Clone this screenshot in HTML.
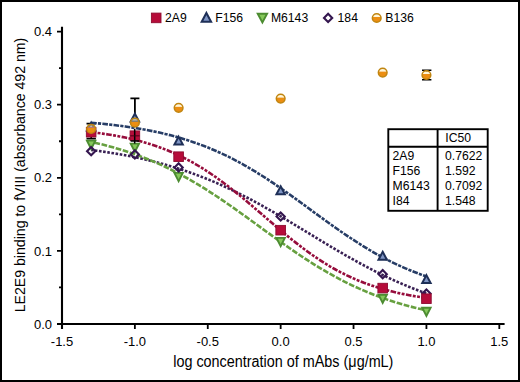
<!DOCTYPE html>
<html><head><meta charset="utf-8"><style>
html,body{margin:0;padding:0;background:#fff;}
svg{display:block;}
text{font-family:"Liberation Sans",sans-serif;fill:#000;}
.t13{font-size:13px;}
.t12{font-size:12.2px;}
.t14{font-size:14.12px;}
.xl{font-size:15.6px;}
</style></head><body>
<svg width="520" height="382" viewBox="0 0 520 382">
<rect x="1" y="1" width="518" height="380" fill="#fff" stroke="#000" stroke-width="2"/>
<path d="M62,26.8 V329 M57,324 H504.6" stroke="#000" stroke-width="2.1" fill="none"/>
<path d="M57,324.00 H62 M57,250.90 H62 M57,177.80 H62 M57,104.70 H62 M57,31.60 H62 M59,287.45 H62 M59,214.35 H62 M59,141.25 H62 M59,68.15 H62 " stroke="#000" stroke-width="1.8"/>
<path d="M62.00,324 V329 M134.88,324 V329 M207.77,324 V329 M280.66,324 V329 M353.54,324 V329 M426.43,324 V329 M499.31,324 V329 " stroke="#000" stroke-width="1.8"/>
<text x="52" y="328.60" text-anchor="end" class="t13">0.0</text>
<text x="52" y="255.50" text-anchor="end" class="t13">0.1</text>
<text x="52" y="182.40" text-anchor="end" class="t13">0.2</text>
<text x="52" y="109.30" text-anchor="end" class="t13">0.3</text>
<text x="52" y="36.20" text-anchor="end" class="t13">0.4</text>
<text x="62.00" y="345.8" text-anchor="middle" class="t13">-1.5</text>
<text x="134.88" y="345.8" text-anchor="middle" class="t13">-1.0</text>
<text x="207.77" y="345.8" text-anchor="middle" class="t13">-0.5</text>
<text x="280.66" y="345.8" text-anchor="middle" class="t13">0.0</text>
<text x="353.54" y="345.8" text-anchor="middle" class="t13">0.5</text>
<text x="426.43" y="345.8" text-anchor="middle" class="t13">1.0</text>
<text x="499.31" y="345.8" text-anchor="middle" class="t13">1.5</text>
<text transform="translate(24.7,175.0) rotate(-90)" text-anchor="middle" class="t14">LE2E9 binding to fVIII (absorbance 492 nm)</text>
<text transform="translate(283.3,366.7) scale(0.923,1)" text-anchor="middle" class="xl">log concentration of mAbs (μg/mL)</text>
<path d="M91.2,123.6 V138.6 M86.5,123.6 H95.9 M86.5,138.6 H95.9" stroke="#000" stroke-width="1.6" fill="none"/>
<path d="M134.9,98.3 V125 M130.4,98.3 H139.4" stroke="#000" stroke-width="1.8" fill="none"/>
<path d="M426.7,70.3 V71.5 M426.7,78.5 V79.7 M422,70.3 H431.4 M422,79.7 H431.4" stroke="#000" stroke-width="1.6" fill="none"/>
<path d="M91.15,149.98 L96.84,150.73 L102.52,151.54 L108.20,152.40 L113.88,153.31 L119.57,154.28 L125.25,155.32 L130.93,156.42 L136.61,157.59 L142.30,158.83 L147.98,160.15 L153.66,161.55 L159.34,163.02 L165.03,164.58 L170.71,166.23 L176.39,167.97 L182.07,169.80 L187.76,171.72 L193.44,173.74 L199.12,175.86 L204.81,178.08 L210.49,180.39 L216.17,182.80 L221.85,185.31 L227.54,187.92 L233.22,190.62 L238.90,193.41 L244.58,196.29 L250.27,199.26 L255.95,202.31 L261.63,205.43 L267.31,208.62 L273.00,211.88 L278.68,215.18 L284.36,218.54 L290.04,221.93 L295.73,225.36 L301.41,228.80 L307.09,232.26 L312.77,235.72 L318.46,239.17 L324.14,242.60 L329.82,246.01 L335.50,249.39 L341.19,252.72 L346.87,255.99 L352.55,259.21 L358.23,262.37 L363.92,265.45 L369.60,268.45 L375.28,271.37 L380.96,274.20 L386.65,276.94 L392.33,279.59 L398.01,282.14 L403.69,284.60 L409.38,286.95 L415.06,289.21 L420.74,291.37 L426.43,293.43" fill="none" stroke="#392154" stroke-width="2.6" stroke-dasharray="2.6 1.6" stroke-dashoffset="0.52"/>
<path d="M91.15,141.96 L96.84,143.23 L102.52,144.59 L108.20,146.04 L113.88,147.59 L119.57,149.25 L125.25,151.01 L130.93,152.89 L136.61,154.88 L142.30,156.99 L147.98,159.23 L153.66,161.59 L159.34,164.08 L165.03,166.70 L170.71,169.46 L176.39,172.34 L182.07,175.36 L187.76,178.50 L193.44,181.77 L199.12,185.16 L204.81,188.66 L210.49,192.28 L216.17,196.00 L221.85,199.81 L227.54,203.71 L233.22,207.67 L238.90,211.70 L244.58,215.78 L250.27,219.89 L255.95,224.03 L261.63,228.17 L267.31,232.30 L273.00,236.41 L278.68,240.49 L284.36,244.52 L290.04,248.49 L295.73,252.39 L301.41,256.21 L307.09,259.93 L312.77,263.55 L318.46,267.06 L324.14,270.46 L329.82,273.73 L335.50,276.88 L341.19,279.90 L346.87,282.79 L352.55,285.55 L358.23,288.17 L363.92,290.67 L369.60,293.04 L375.28,295.28 L380.96,297.39 L386.65,299.39 L392.33,301.27 L398.01,303.04 L403.69,304.70 L409.38,306.25 L415.06,307.71 L420.74,309.07 L426.43,310.34" fill="none" stroke="#67A040" stroke-width="2.6" stroke-dasharray="5.7 1.63" stroke-dashoffset="3.98"/>
<path d="M91.15,132.12 L96.84,132.82 L102.52,133.59 L108.20,134.45 L113.88,135.40 L119.57,136.44 L125.25,137.59 L130.93,138.85 L136.61,140.24 L142.30,141.75 L147.98,143.42 L153.66,145.23 L159.34,147.20 L165.03,149.35 L170.71,151.68 L176.39,154.19 L182.07,156.90 L187.76,159.81 L193.44,162.93 L199.12,166.24 L204.81,169.77 L210.49,173.50 L216.17,177.42 L221.85,181.53 L227.54,185.81 L233.22,190.25 L238.90,194.83 L244.58,199.53 L250.27,204.32 L255.95,209.17 L261.63,214.07 L267.31,218.97 L273.00,223.86 L278.68,228.69 L284.36,233.45 L290.04,238.11 L295.73,242.64 L301.41,247.03 L307.09,251.25 L312.77,255.29 L318.46,259.15 L324.14,262.80 L329.82,266.26 L335.50,269.50 L341.19,272.54 L346.87,275.38 L352.55,278.02 L358.23,280.47 L363.92,282.73 L369.60,284.82 L375.28,286.73 L380.96,288.49 L386.65,290.10 L392.33,291.57 L398.01,292.91 L403.69,294.13 L409.38,295.24 L415.06,296.25 L420.74,297.16 L426.43,297.99" fill="none" stroke="#960D3C" stroke-width="2.6" stroke-dasharray="5.6 1.4 2.9 1.45 2.9 1.45" stroke-dashoffset="0.52"/>
<path d="M91.15,122.73 L96.84,123.24 L102.52,123.78 L108.20,124.38 L113.88,125.03 L119.57,125.73 L125.25,126.49 L130.93,127.32 L136.61,128.21 L142.30,129.18 L147.98,130.23 L153.66,131.37 L159.34,132.59 L165.03,133.92 L170.71,135.34 L176.39,136.87 L182.07,138.51 L187.76,140.27 L193.44,142.15 L199.12,144.17 L204.81,146.31 L210.49,148.59 L216.17,151.02 L221.85,153.58 L227.54,156.29 L233.22,159.15 L238.90,162.14 L244.58,165.28 L250.27,168.56 L255.95,171.98 L261.63,175.52 L267.31,179.18 L273.00,182.95 L278.68,186.82 L284.36,190.77 L290.04,194.80 L295.73,198.89 L301.41,203.02 L307.09,207.17 L312.77,211.33 L318.46,215.49 L324.14,219.62 L329.82,223.71 L335.50,227.74 L341.19,231.70 L346.87,235.58 L352.55,239.35 L358.23,243.02 L363.92,246.57 L369.60,249.99 L375.28,253.27 L380.96,256.42 L386.65,259.43 L392.33,262.29 L398.01,265.01 L403.69,267.58 L409.38,270.01 L415.06,272.30 L420.74,274.45 L426.43,276.47" fill="none" stroke="#273D66" stroke-width="2.6" stroke-dasharray="5.6 1.2 3.2 1.24" stroke-dashoffset="11.23"/>
<path d="M86.95,140.60 L95.35,140.60 L91.15,148.90Z" fill="#86C85A" stroke="#4C8C31" stroke-width="1.9" stroke-linejoin="miter"/>
<path d="M130.69,143.60 L139.08,143.60 L134.88,151.90Z" fill="#86C85A" stroke="#4C8C31" stroke-width="1.9" stroke-linejoin="miter"/>
<path d="M174.42,172.90 L182.82,172.90 L178.62,181.20Z" fill="#86C85A" stroke="#4C8C31" stroke-width="1.9" stroke-linejoin="miter"/>
<path d="M276.46,237.90 L284.86,237.90 L280.66,246.20Z" fill="#86C85A" stroke="#4C8C31" stroke-width="1.9" stroke-linejoin="miter"/>
<path d="M378.49,294.70 L386.89,294.70 L382.69,303.00Z" fill="#86C85A" stroke="#4C8C31" stroke-width="1.9" stroke-linejoin="miter"/>
<path d="M422.23,307.70 L430.62,307.70 L426.43,316.00Z" fill="#86C85A" stroke="#4C8C31" stroke-width="1.9" stroke-linejoin="miter"/>
<path d="M91.15,147.10 L95.25,151.20 L91.15,155.30 L87.05,151.20Z" fill="none" stroke="#34164F" stroke-width="2.1"/>
<path d="M134.88,150.30 L138.98,154.40 L134.88,158.50 L130.78,154.40Z" fill="none" stroke="#34164F" stroke-width="2.1"/>
<path d="M178.62,163.30 L182.72,167.40 L178.62,171.50 L174.52,167.40Z" fill="none" stroke="#34164F" stroke-width="2.1"/>
<path d="M280.66,212.40 L284.76,216.50 L280.66,220.60 L276.56,216.50Z" fill="none" stroke="#34164F" stroke-width="2.1"/>
<path d="M382.69,270.10 L386.79,274.20 L382.69,278.30 L378.59,274.20Z" fill="none" stroke="#34164F" stroke-width="2.1"/>
<path d="M426.43,289.40 L430.53,293.50 L426.43,297.60 L422.32,293.50Z" fill="none" stroke="#34164F" stroke-width="2.1"/>
<path d="M91.15,122.60 L95.35,130.50 L86.95,130.50Z" fill="#7F95C4" stroke="#1E2F57" stroke-width="2.0" stroke-linejoin="miter"/>
<path d="M134.88,113.60 L139.08,121.50 L130.69,121.50Z" fill="#7F95C4" stroke="#1E2F57" stroke-width="2.0" stroke-linejoin="miter"/>
<path d="M178.62,136.60 L182.82,144.50 L174.42,144.50Z" fill="#7F95C4" stroke="#1E2F57" stroke-width="2.0" stroke-linejoin="miter"/>
<path d="M280.66,186.30 L284.86,194.20 L276.46,194.20Z" fill="#7F95C4" stroke="#1E2F57" stroke-width="2.0" stroke-linejoin="miter"/>
<path d="M382.69,251.80 L386.89,259.70 L378.49,259.70Z" fill="#7F95C4" stroke="#1E2F57" stroke-width="2.0" stroke-linejoin="miter"/>
<path d="M426.43,275.10 L430.62,283.00 L422.23,283.00Z" fill="#7F95C4" stroke="#1E2F57" stroke-width="2.0" stroke-linejoin="miter"/>
<rect x="86.35" y="127.40" width="9.6" height="9.6" fill="#B60C3A" stroke="#8E0C30" stroke-width="0.9"/>
<rect x="130.08" y="130.90" width="9.6" height="9.6" fill="#B60C3A" stroke="#8E0C30" stroke-width="0.9"/>
<rect x="173.82" y="151.90" width="9.6" height="9.6" fill="#B60C3A" stroke="#8E0C30" stroke-width="0.9"/>
<rect x="275.86" y="225.40" width="9.6" height="9.6" fill="#B60C3A" stroke="#8E0C30" stroke-width="0.9"/>
<rect x="377.89" y="283.30" width="9.6" height="9.6" fill="#B60C3A" stroke="#8E0C30" stroke-width="0.9"/>
<rect x="421.62" y="293.90" width="9.6" height="9.6" fill="#B60C3A" stroke="#8E0C30" stroke-width="0.9"/>
<g><path d="M86.92,127.90 L95.39,127.90 A4.35,4.35 0 1 1 86.92,127.90Z" fill="#EC8E12"/><path d="M86.92,127.90 L95.39,127.90 A4.35,4.35 0 0 0 86.92,127.90Z" fill="#FFEBA8" opacity="0.45"/><circle cx="91.15" cy="128.90" r="4.35" fill="none" stroke="#C08510" stroke-width="1.5"/></g>
<g><path d="M130.65,121.70 L139.12,121.70 A4.35,4.35 0 1 1 130.65,121.70Z" fill="#EC8E12"/><path d="M130.65,121.70 L139.12,121.70 A4.35,4.35 0 0 0 130.65,121.70Z" fill="#FFEBA8" opacity="0.45"/><circle cx="134.88" cy="122.70" r="4.35" fill="none" stroke="#C08510" stroke-width="1.5"/></g>
<g><path d="M174.38,106.80 L182.85,106.80 A4.35,4.35 0 1 1 174.38,106.80Z" fill="#EC8E12"/><path d="M174.38,106.80 L182.85,106.80 A4.35,4.35 0 0 0 174.38,106.80Z" fill="#FFEBA8" opacity="0.45"/><circle cx="178.62" cy="107.80" r="4.35" fill="none" stroke="#C08510" stroke-width="1.5"/></g>
<g><path d="M276.42,97.60 L284.89,97.60 A4.35,4.35 0 1 1 276.42,97.60Z" fill="#EC8E12"/><path d="M276.42,97.60 L284.89,97.60 A4.35,4.35 0 0 0 276.42,97.60Z" fill="#FFEBA8" opacity="0.45"/><circle cx="280.66" cy="98.60" r="4.35" fill="none" stroke="#C08510" stroke-width="1.5"/></g>
<g><path d="M378.46,71.60 L386.93,71.60 A4.35,4.35 0 1 1 378.46,71.60Z" fill="#EC8E12"/><path d="M378.46,71.60 L386.93,71.60 A4.35,4.35 0 0 0 378.46,71.60Z" fill="#FFEBA8" opacity="0.45"/><circle cx="382.69" cy="72.60" r="4.35" fill="none" stroke="#C08510" stroke-width="1.5"/></g>
<g><path d="M422.19,74.00 L430.66,74.00 A4.35,4.35 0 1 1 422.19,74.00Z" fill="#EC8E12"/><path d="M422.19,74.00 L430.66,74.00 A4.35,4.35 0 0 0 422.19,74.00Z" fill="#FFEBA8" opacity="0.45"/><circle cx="426.43" cy="75.00" r="4.35" fill="none" stroke="#C08510" stroke-width="1.5"/></g>
<path d="M134.7,129 V143.6 M130.6,140.9 H139.2" stroke="#000" stroke-width="1.5" fill="none"/>
<path d="M130.2,135.8 H139.6" stroke="#3a0010" stroke-width="1.3" fill="none" opacity="0.7"/>
<rect x="151.40" y="13.10" width="9.6" height="9.6" fill="#B60C3A" stroke="#8E0C30" stroke-width="0.9"/>
<path d="M206.40,12.95 L211.10,21.75 L201.70,21.75Z" fill="#7F95C4" stroke="#1E2F57" stroke-width="2.0" stroke-linejoin="miter"/>
<path d="M257.70,13.75 L267.10,13.75 L262.40,22.55Z" fill="#86C85A" stroke="#4C8C31" stroke-width="1.9" stroke-linejoin="miter"/>
<path d="M328.10,13.80 L332.20,17.90 L328.10,22.00 L324.00,17.90Z" fill="none" stroke="#34164F" stroke-width="2.1"/>
<g><path d="M372.47,17.00 L380.93,17.00 A4.35,4.35 0 1 1 372.47,17.00Z" fill="#EC8E12"/><path d="M372.47,17.00 L380.93,17.00 A4.35,4.35 0 0 0 372.47,17.00Z" fill="#FFEBA8" opacity="0.45"/><circle cx="376.70" cy="18.00" r="4.35" fill="none" stroke="#C08510" stroke-width="1.5"/></g>
<text x="165.0" y="21.9" class="t12">2A9</text>
<text x="215.3" y="21.9" class="t12">F156</text>
<text x="270.9" y="21.9" class="t12">M6143</text>
<text x="337.6" y="21.9" class="t12">184</text>
<text x="385.3" y="21.9" class="t12">B136</text>
<rect x="388.3" y="129.2" width="99.4" height="81.6" fill="#fff" stroke="#000" stroke-width="1.9"/>
<path d="M437.6,129.2 V210.8 M388.3,146.8 H487.7" stroke="#000" stroke-width="1.9"/>
<text x="445.3" y="142.2" class="t12">IC50</text>
<text x="392.6" y="160.30" class="t12">2A9</text>
<text x="445.1" y="160.30" class="t12">0.7622</text>
<text x="392.6" y="175.25" class="t12">F156</text>
<text x="445.1" y="175.25" class="t12">1.592</text>
<text x="392.6" y="190.20" class="t12">M6143</text>
<text x="445.1" y="190.20" class="t12">0.7092</text>
<text x="392.6" y="205.15" class="t12">I84</text>
<text x="445.1" y="205.15" class="t12">1.548</text>
</svg>
</body></html>
